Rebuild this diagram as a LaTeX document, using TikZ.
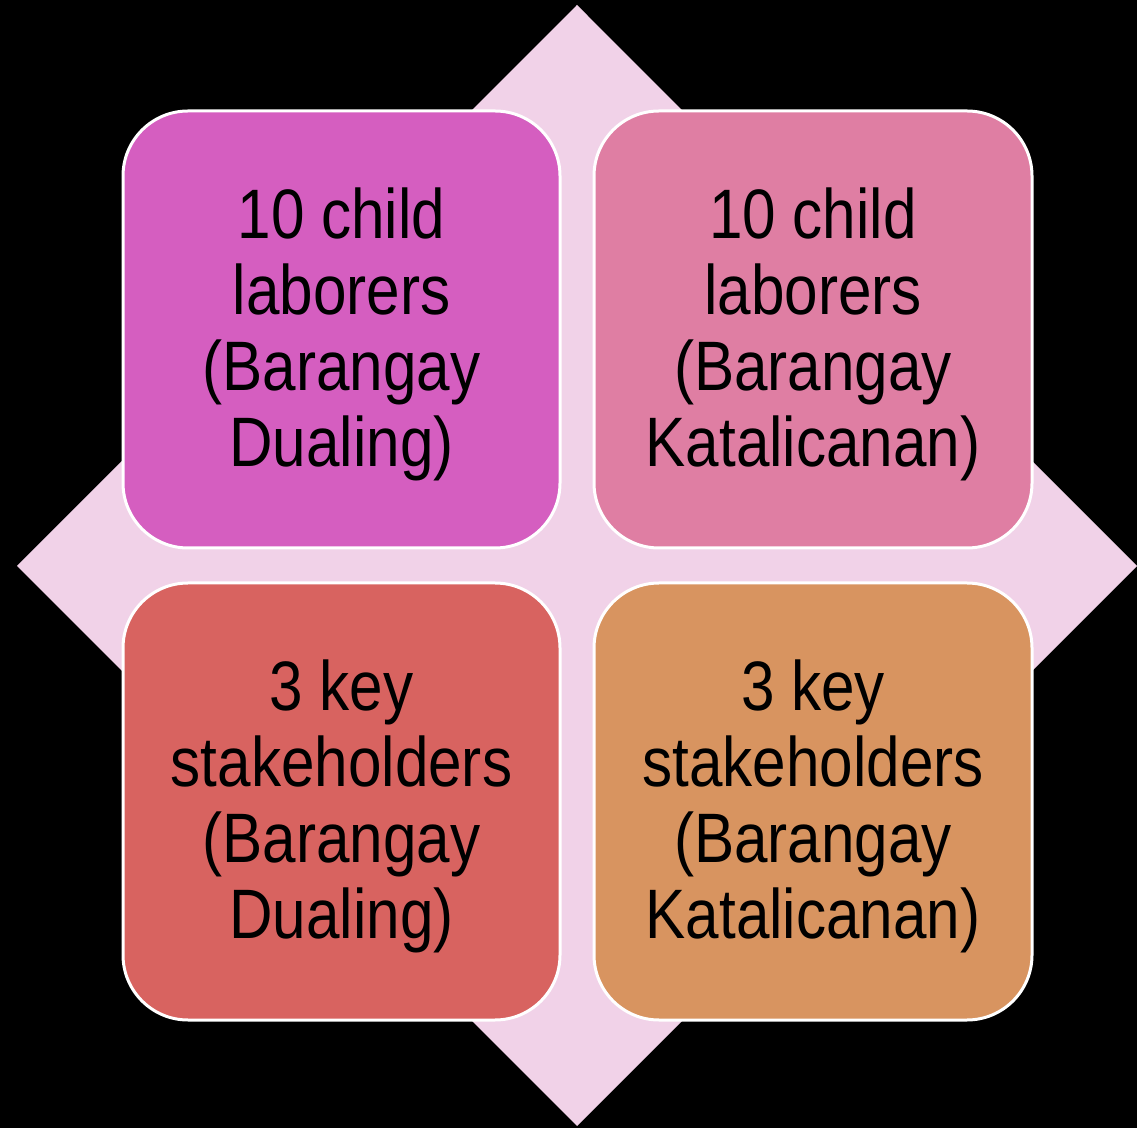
\documentclass[tikz,border=0pt]{standalone}
\usepackage{fontspec}
\setmainfont[FakeStretch=0.86]{Liberation Sans}
\begin{document}
\begin{tikzpicture}[x=1pt,y=1pt,
  tile/.style={draw=white,line width=3pt,rounded corners=65pt},
  label/.style={anchor=base,align=center,inner sep=0pt,text=black,
    font=\fontsize{70}{76}\selectfont}]
\definecolor{bgdiamond}{HTML}{F1D2E8}
\definecolor{tileA}{HTML}{D55EC0}
\definecolor{tileB}{HTML}{DF7EA3}
\definecolor{tileC}{HTML}{D86360}
\definecolor{tileD}{HTML}{D89460}
% canvas
\fill[black] (0,0) rectangle (1137,1128);
\useasboundingbox (0,0) rectangle (1137,1128);
% backdrop diamond
\fill[bgdiamond] (577,1123) -- (1137,562) -- (577,2) -- (17,562) -- cycle;
% four tiles
\draw[tile,fill=tileA] (123,580) rectangle (560,1017);
\draw[tile,fill=tileB] (594,580) rectangle (1032,1017);
\draw[tile,fill=tileC] (123,108) rectangle (560,545);
\draw[tile,fill=tileD] (594,108) rectangle (1032,545);
% tile texts (base anchor sits on the last line)
\node[label] (tl) at (341.5,661) {10 child\\laborers\\(Barangay\\Dualing)};
\node[label] (tr) at (813,661) {10 child\\laborers\\(Barangay\\Katalicanan)};
\node[label] (bl) at (341.5,190) {3 key\\stakeholders\\(Barangay\\Dualing)};
\node[label] (br) at (813,190) {3 key\\stakeholders\\(Barangay\\Katalicanan)};
\end{tikzpicture}
\end{document}
